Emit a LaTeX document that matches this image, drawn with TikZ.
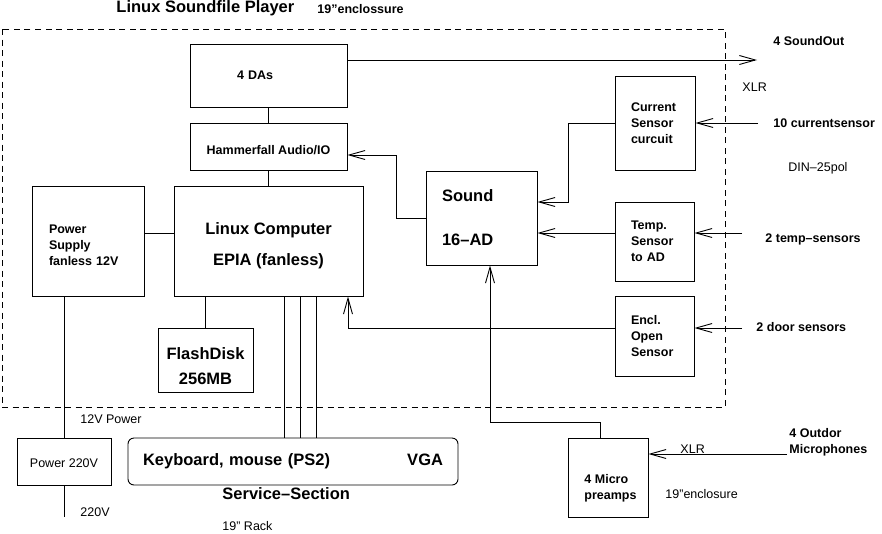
\documentclass[tikz,border=0pt]{standalone}
\usepackage{fontspec}
\setmainfont{Liberation Sans}
\usetikzlibrary{arrows.meta}
\usetikzlibrary{positioning}

\begin{document}
\begin{tikzpicture}[x=1pt,y=-1pt,>={Straight Barb[length=16pt,width=9pt]},line width=0.9pt,
  main node/.style={rectangle,draw,font=\fontsize{12.5}{16}\selectfont\bfseries},
  big node/.style={main node,font=\fontsize{16.5}{20}\selectfont\bfseries},
  title node/.style={anchor=west,inner sep=0pt,font=\fontsize{16.5}{20}\selectfont\bfseries},
  bold node/.style={anchor=west,inner sep=0pt,font=\fontsize{12.5}{16}\selectfont\bfseries},
  plain node/.style={anchor=west,inner sep=0pt,font=\fontsize{12.5}{16}\selectfont}]

  \useasboundingbox (0,0) rectangle (882,533);

  % 19" enclosure
  \draw[dash pattern=on 6pt off 4.5pt] (2,29) rectangle (725,407);

  \node[main node,minimum width=157pt,minimum height=63pt,text width=63pt,inner xsep=47pt,align=left] (1) at (268.5,75.5) {4 DAs};
  \node[main node,minimum width=157pt,minimum height=47pt] (2) at (268.5,146.5) {\rule{0pt}{17pt}Hammerfall Audio/IO};
  \node[main node,minimum width=112pt,minimum height=110pt,text width=78pt,inner xsep=17pt,align=left] (3) at (88,241) {\rule{0pt}{17pt}Power\\Supply\\fanless 12V};
  \node[big node,minimum width=189pt,minimum height=110pt,align=center] (4) at (268.5,241) {\rule{0pt}{22pt}Linux Computer\\[11pt]EPIA (fanless)};
  \node[big node,minimum width=95pt,minimum height=64pt,align=center] (5) at (205.5,360) {\rule{0pt}{24pt}FlashDisk\\[5pt]256MB};
  \node[big node,minimum width=111pt,minimum height=94pt,text width=79pt,inner xsep=16pt,align=left] (6) at (481.5,218) {Sound\\[24pt]16–AD};
  \node[main node,minimum width=80pt,minimum height=94pt,text width=48pt,inner xsep=16pt,align=left] (7) at (655,123) {Current\\Sensor\\curcuit};
  \node[main node,minimum width=79pt,minimum height=79pt,text width=47pt,inner xsep=16pt,align=left] (8) at (654.5,241.5) {Temp.\\Sensor\\to AD};
  \node[main node,minimum width=79pt,minimum height=80pt,text width=47pt,inner xsep=16pt,align=left] (9) at (654.5,336) {Encl.\\Open\\Sensor};
  \node[main node,minimum width=80pt,minimum height=79pt] (10) at (608,477.5) {};
  \node[bold node,align=left] (11) at (584,488) {4 Micro\\preamps};
  \node[main node,font=\fontsize{12.5}{16}\selectfont,minimum width=94pt,minimum height=47pt] (12) at (64,461.5) {\rule{0pt}{13pt}Power 220V};
  \node[big node,rounded corners=6pt,minimum width=330pt,minimum height=47pt,text width=300pt,inner xsep=15pt,align=left] (13) at (293,461.5) {Keyboard, mouse (PS2)\hfill VGA};

  \node[title node] (14) at (116,8) {Linux Soundfile Player};
  \node[bold node] (15) at (317,9) {19"enclossure};
  \node[bold node] (16) at (773,41) {4 SoundOut};
  \node[plain node] (17) at (742,87) {XLR};
  \node[bold node] (18) at (773,123) {10 currentsensor};
  \node[plain node] (19) at (788,168) {DIN–25pol};
  \node[bold node] (20) at (765,239) {2 temp–sensors};
  \node[bold node] (21) at (756,327) {2 door sensors};
  \node[bold node,align=left] (22) at (789,442) {4 Outdor\\Microphones};
  \node[plain node] (23) at (680,449) {XLR};
  \node[plain node] (24) at (665,494) {19"enclosure};
  \node[plain node] (25) at (80,419) {12V Power};
  \node[plain node] (26) at (80,512) {220V};
  \node[big node,draw=none,anchor=west,inner sep=0pt] (27) at (222,494) {Service–Section};
  \node[plain node] (28) at (222,526) {19" Rack};

  \coordinate (out) at (757,60);
  \coordinate (cur) at (758,123);
  \coordinate (temp) at (742,233);
  \coordinate (door) at (742,328);
  \coordinate (mic) at (787,454);
  \coordinate (mains) at (64,517);

  \draw (1.south) -- (2.north);
  \draw (2.south) -- (4.north);
  \draw (3.east |- 0,233) -- (4.west |- 0,233);
  \draw (5.north) -- (5.north |- 4.south);
  \foreach \x in {284,300,316}
    \draw (\x,0 |- 4.south) -- (\x,0 |- 13.north);
  \draw[->] (1.east |- out) -- (out);
  \draw[->] (cur) -- (7.east);
  \draw[->] (7.west) -| (568,202) -- (6.east |- 0,202);
  \draw[->] (8.west |- temp) -- (6.east |- temp);
  \draw[->] (temp) -- (8.east |- temp);
  \draw[->] (door) -- (9.east |- door);
  \draw[->] (9.west |- door) -| (348,0 |- 4.south);
  \draw[->] (600,0 |- 10.north) |- (490,422) -- (490,0 |- 6.south);
  \draw[->] (6.west) -| (396,155) -- (2.east |- 0,155);
  \draw[->] (mic) -- (10.east |- mic);
  \draw (12.north) -- (12.north |- 3.south);
  \draw (12.south) -- (mains);
\end{tikzpicture}
\end{document}
